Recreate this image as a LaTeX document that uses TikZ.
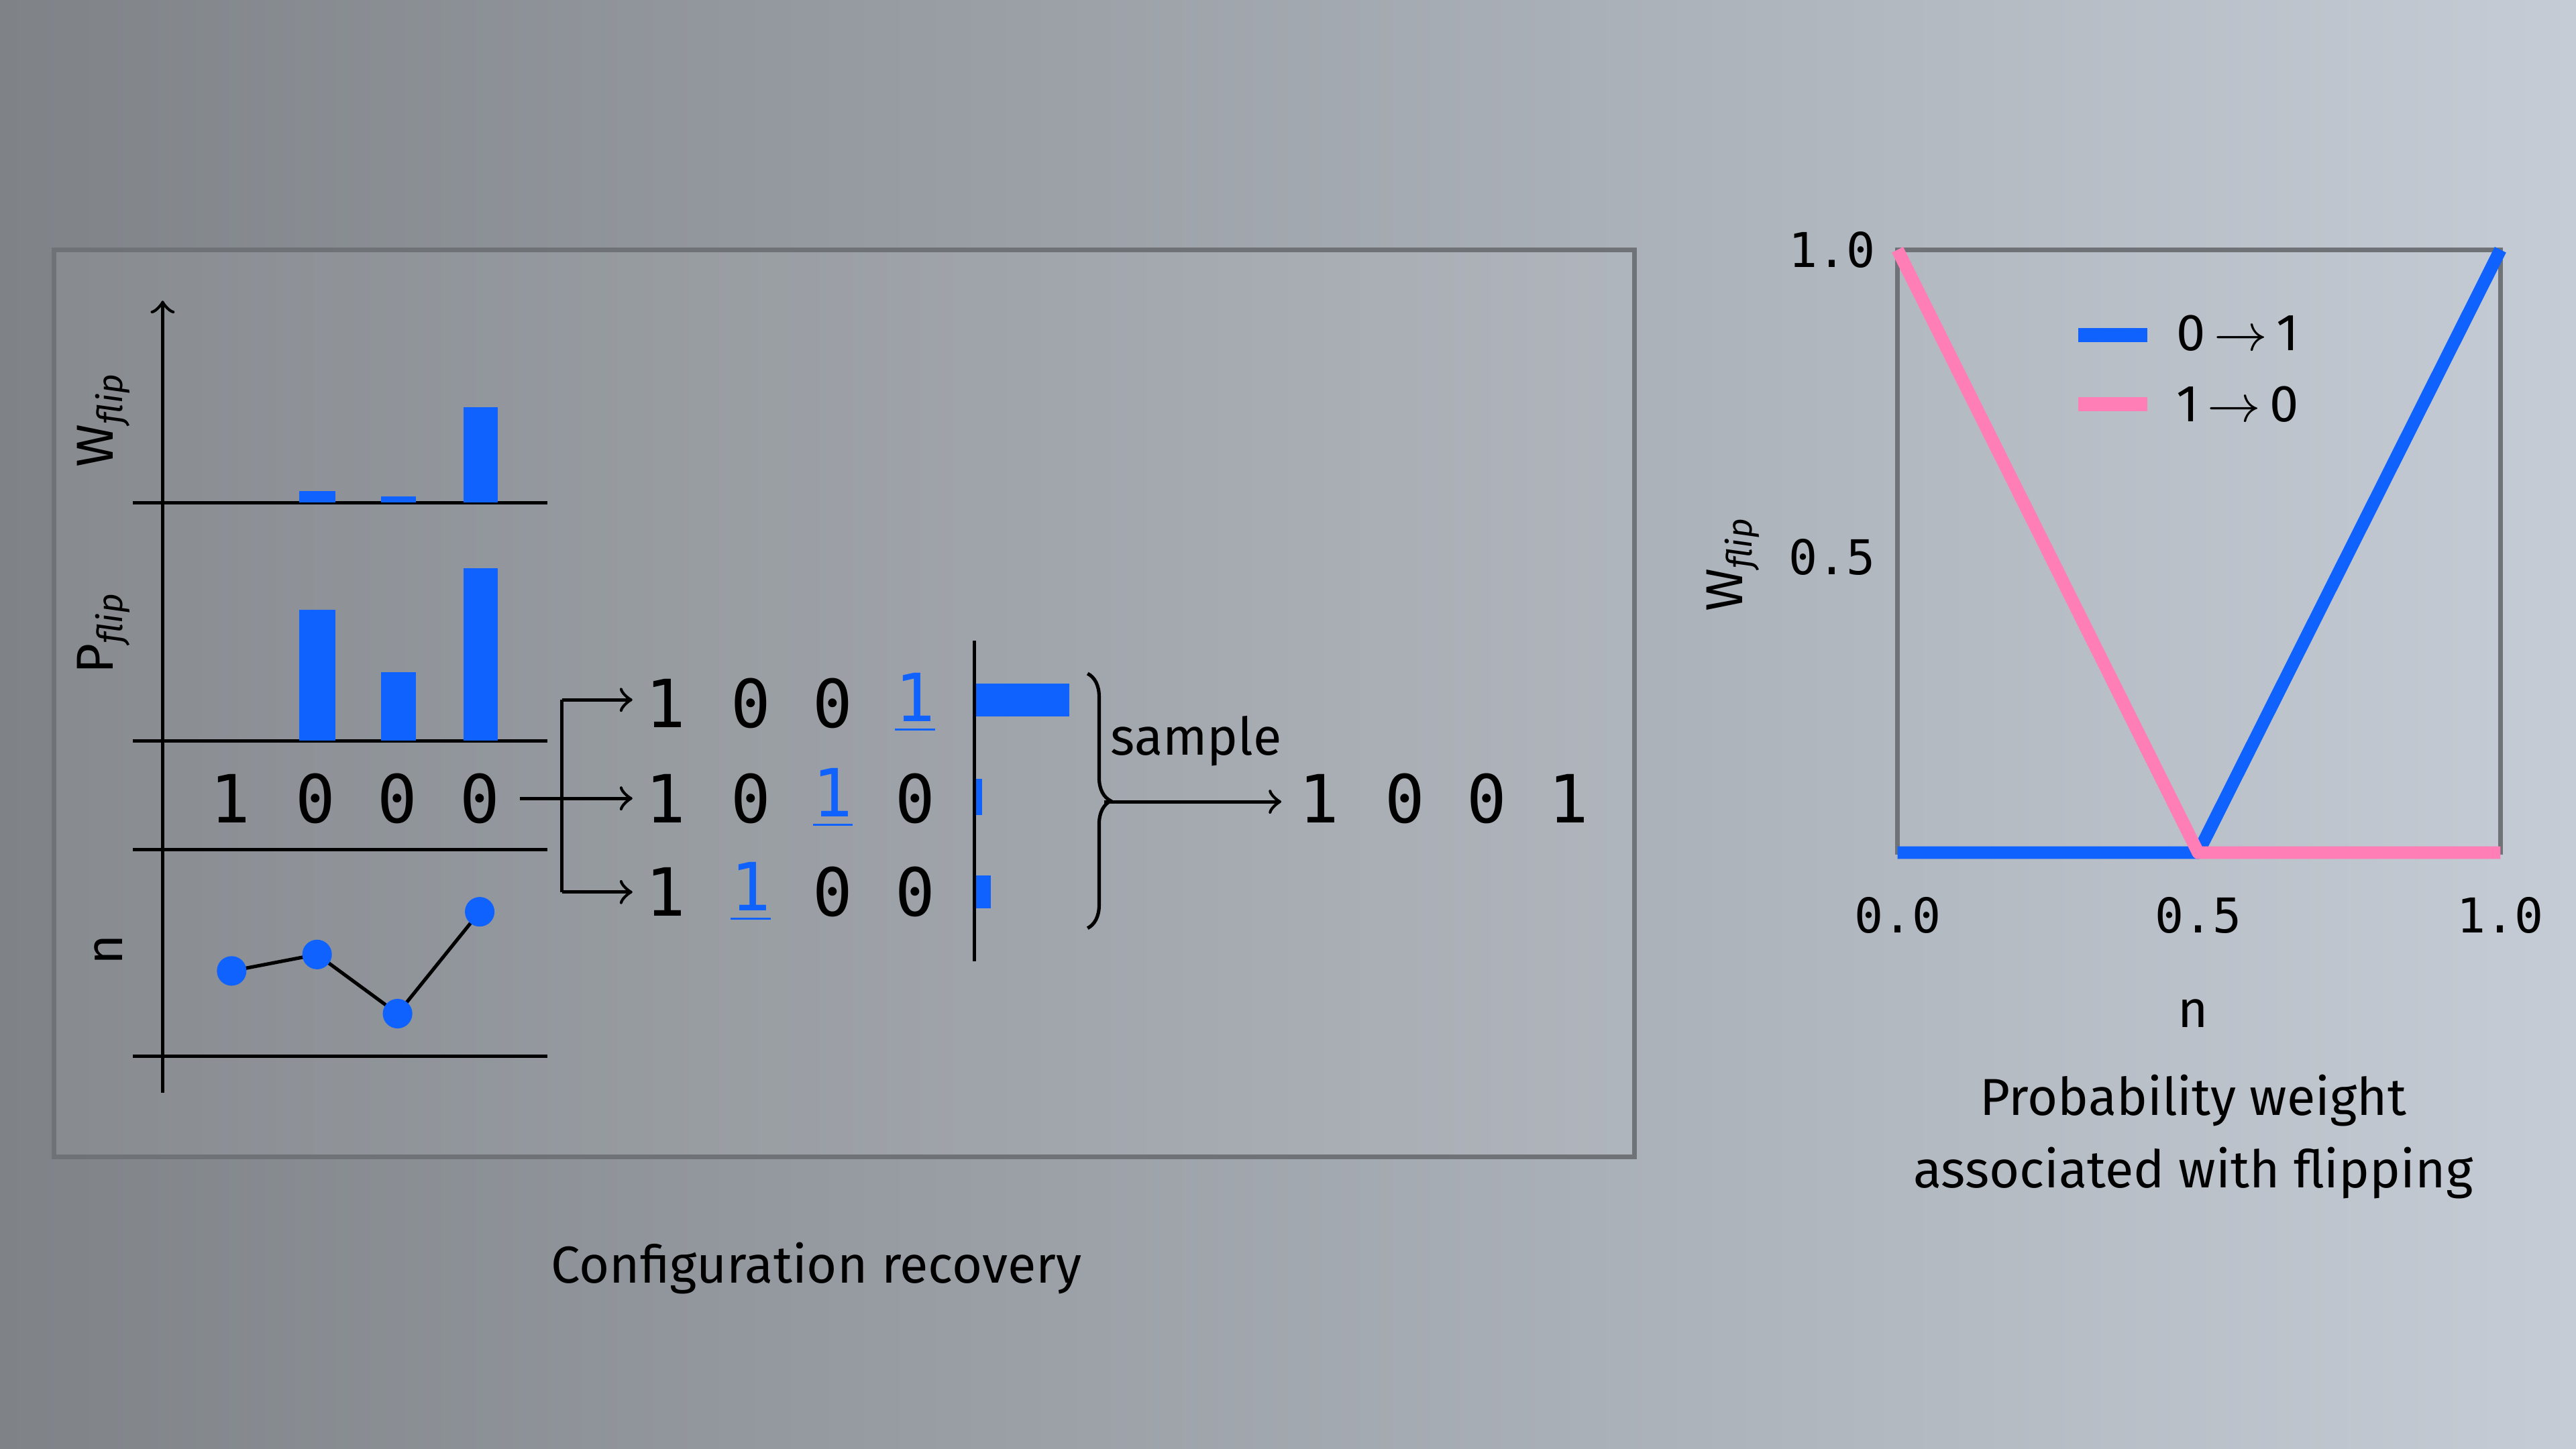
\documentclass[tikz,border=0pt]{standalone}
\usepackage{fontspec}
\setmainfont{Fira Sans}
\newfontfamily\digitfont{DejaVu Sans Mono}
\usetikzlibrary{decorations.pathreplacing}
\definecolor{flipblue}{HTML}{0F62FE}
\definecolor{flippink}{HTML}{FF7EB6}
\definecolor{framegray}{HTML}{6F7378}
\definecolor{bgleft}{HTML}{7F8388}
\definecolor{bgright}{HTML}{C5CCD5}
\newcommand{\flipsub}[1]{#1\textsubscript{\itshape flip}}
\begin{document}
\begin{tikzpicture}[x=0.01cm,y=-0.01cm,
  bit/.style={font=\digitfont\fontsize{11.5}{14}\selectfont},
  ubit/.style={bit,text=flipblue},
  bar/.style={fill=flipblue,draw=none},
  axis/.style={line width=0.6pt},
  tick/.style={font=\digitfont\fontsize{8.3}{10}\selectfont},
  lbl/.style={font=\fontsize{9}{11}\selectfont},
  caption/.style={font=\fontsize{9}{12.5}\selectfont,align=center}]

  % Hintergrund
  \shade[left color=bgleft, right color=bgright] (0,0) rectangle (1568,882);
  \useasboundingbox (0,0) rectangle (1568,882);

  % Rahmen links
  \draw[framegray,line width=0.8pt,fill=white,fill opacity=0.06] (33,152) rectangle (995,704);

  % Achsen und Trennlinien
  \draw[axis,->] (99,665) -- (99,183);
  \foreach \yy in {306,451,517,643}
    \draw[axis] (81,\yy) -- (333,\yy);
  \node[lbl,rotate=90] (wlbl) at (63,255) {\flipsub{W}};
  \node[lbl,rotate=90] (plbl) at (63,385) {\flipsub{P}};
  \node[lbl,rotate=90] (nlbl) at (66,578) {n};

  % Balken W und P
  \fill[bar] (182,299) rectangle (204,306);
  \fill[bar] (232,302) rectangle (253,306);
  \fill[bar] (282,248) rectangle (303,306);
  \fill[bar] (182,371) rectangle (204,451);
  \fill[bar] (232,409) rectangle (253,451);
  \fill[bar] (282,346) rectangle (303,451);

  % Startkonfiguration
  \node[bit] (s1) at (140,486) {1};
  \node[bit] (s2) at (192,486) {0};
  \node[bit] (s3) at (242,486) {0};
  \node[bit] (s4) at (292,486) {0};

  % Besetzung n
  \draw[line width=0.6pt] (141,591) -- (193,581) -- (242,617) -- (292,555);
  \foreach \px/\py/\nm in {141/591/p1,193/581/p2,242/617/p3,292/555/p4}
    \fill[flipblue] (\px,\py) circle (9) coordinate (\nm);

  % Verzweigung
  \coordinate (forktop) at (342,426);
  \coordinate (forkbot) at (342,543);
  \draw[axis] (forktop) -- (forkbot);
  \draw[axis,->] (s4.east) -- (385,486);
  \draw[axis,->] (forktop) -- (385,426);
  \draw[axis,->] (forkbot) -- (385,543);

  % Kandidaten
  \node[bit] (a1) at (405,428) {1};
  \node[bit] (a2) at (457,428) {0};
  \node[bit] (a3) at (507,428) {0};
  \node[ubit] (a4) at (557,428) {\underline{1}};
  \node[bit] (b1) at (405,486) {1};
  \node[bit] (b2) at (457,486) {0};
  \node[ubit] (b3) at (507,486) {\underline{1}};
  \node[bit] (b4) at (557,486) {0};
  \node[bit] (c1) at (405,543) {1};
  \node[ubit] (c2) at (457,543) {\underline{1}};
  \node[bit] (c3) at (507,543) {0};
  \node[bit] (c4) at (557,543) {0};

  % Gewichte
  \draw[axis] (593,390) -- (593,585);
  \fill[bar] (594,416) rectangle (651,436);
  \fill[bar] (594,474) rectangle (598,496);
  \fill[bar] (594,533) rectangle (603,553);

  % Auswahl
  \draw[axis,decorate,decoration={brace,amplitude=4pt}] (662,410) -- (662,565);
  \node[lbl] (smp) at (728,451) {sample};
  \draw[axis,->] (672,488) -- (780,488);
  \node[bit] (r1) at (803,486) {1};
  \node[bit] (r2) at (855,486) {0};
  \node[bit] (r3) at (905,486) {0};
  \node[bit] (r4) at (955,486) {1};

  \node[caption] (capl) at (497,772) {Configuration recovery};

  % Diagramm rechts
  \draw[framegray,line width=0.8pt] (1155,152) rectangle (1522,519);
  \node[tick] (y1) at (1115,152) {1.0};
  \node[tick] (y5) at (1115,339) {0.5};
  \node[tick] (x0) at (1155,557) {0.0};
  \node[tick] (x5) at (1338,557) {0.5};
  \node[tick] (x1) at (1522,557) {1.0};
  \node[lbl,rotate=90] (wax) at (1055,343) {\flipsub{W}};
  \node[lbl] (nax) at (1335,617) {n};
  \draw[flipblue,line width=2.2pt,line join=round] (1155,519) -- (1338,519) -- (1522,152);
  \draw[flippink,line width=2.2pt,line join=round] (1155,152) -- (1338,519) -- (1522,519);

  % Legende
  \draw[flipblue,line width=2.5pt] (1265,204) -- (1307,204);
  \draw[flippink,line width=2.5pt] (1265,246) -- (1307,246);
  \node[lbl] (leg1) at (1362,203) {0\,$\rightarrow$\,1};
  \node[lbl] (leg2) at (1362,246) {1\,$\rightarrow$\,0};

  \node[caption] (capr) at (1335,692) {Probability weight\\associated with flipping};
\end{tikzpicture}
\end{document}
